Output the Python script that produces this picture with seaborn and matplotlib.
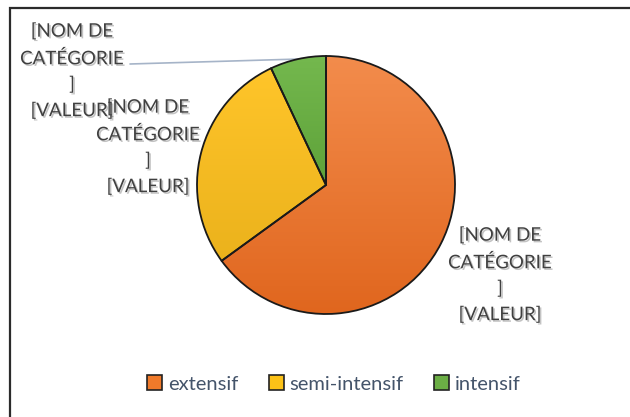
import matplotlib
matplotlib.use("Agg")
import numpy as np
import matplotlib.pyplot as plt
import matplotlib.patheffects as pe
from matplotlib.patches import Rectangle, Patch
from matplotlib.colors import LinearSegmentedColormap
import seaborn as sns

categories = ["extensif", "semi-intensif", "intensif"]
values = [65, 28, 7]
colors = ["#F07A2A", "#FCC217", "#6BAE45"]
grad_top = ["#F38C4C", "#FFC52A", "#74B84E"]
grad_bottom = ["#E0661E", "#EBB21C", "#5EA239"]
label_text = "[NOM DE\nCATÉGORIE\n]\n[VALEUR]"

sns.set_theme(style="white")
plt.rcParams['font.family'] = ['Lato', 'DejaVu Sans']

W, H = 630, 417
fig = plt.figure(figsize=(W / 100, H / 100), dpi=100)
ax = fig.add_axes([0, 0, 1, 1])
ax.set_xlim(0, W)
ax.set_ylim(H, 0)
ax.axis("off")

# figure frame (top and left visible)
fig.patches.append(Rectangle((10 / W, -0.05), 1.2, (H - 8) / H + 0.05,
                             transform=fig.transFigure, fill=False,
                             edgecolor="#2b2b2b", linewidth=1.6))

pax = fig.add_axes([0, 0, 1, 1])
wedges, _ = pax.pie(values, colors=colors, startangle=90, counterclock=False,
                    center=(326, H - 185), radius=129,
                    wedgeprops=dict(edgecolor="#1a1a1a", linewidth=1.3))
pax.set_aspect("equal")
pax.set_xlim(0, W)
pax.set_ylim(0, H)
pax.axis("off")

# vertical gradient fill clipped to each wedge
for w, ct, cb in zip(wedges, grad_top, grad_bottom):
    ext = w.get_path().get_extents()
    cmap = LinearSegmentedColormap.from_list("g", [cb, ct])
    grad = np.linspace(0, 1, 256).reshape(-1, 1)
    im = pax.imshow(grad, cmap=cmap, origin="lower", aspect="auto",
                    extent=(ext.x0, ext.x1, ext.y0, ext.y1), zorder=w.get_zorder() - 0.01,
                    interpolation="bilinear")
    im.set_clip_path(w)
    w.set_facecolor("none")
pax.set_xlim(0, W)
pax.set_ylim(0, H)

shadow = [pe.SimplePatchShadow(offset=(1.2, -1.2), alpha=0.25), pe.Normal()]
label_pos = [(500, 275), (148, 147), (72, 71)]
for (x, y) in label_pos:
    ax.text(x, y, label_text, ha="center", va="center", fontsize=13.5,
            color="#404040", linespacing=1.62, path_effects=shadow)

# leader line for the small slice
ax.plot([130, 300], [64, 59], color="#A6B4C8", linewidth=1.2)

handles = [Patch(facecolor=c, edgecolor="#222222", linewidth=1.2) for c in colors]
fig.legend(handles, categories, loc="center", bbox_to_anchor=(334 / W, 1 - 384 / H),
           ncol=3, frameon=False, fontsize=14.5, handlelength=0.75, handleheight=0.75,
           handletextpad=0.3, columnspacing=1.5, labelcolor="#44546A")

fig.savefig("out.png", dpi=100)
